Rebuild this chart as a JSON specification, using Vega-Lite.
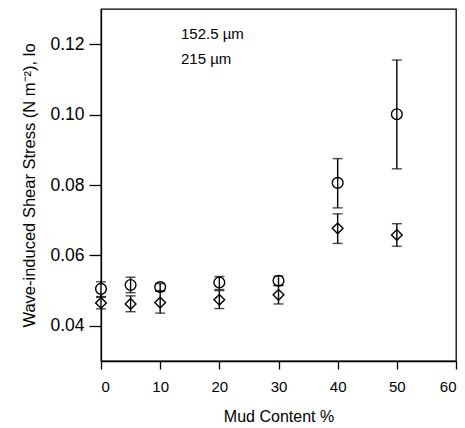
{
  "$schema": "https://vega.github.io/schema/vega-lite/v6.json",
  "width": 355,
  "height": 352,
  "autosize": {"type": "none"},
  "padding": {"left": 101, "top": 9, "right": 9, "bottom": 67},
  "background": "white",
  "config": {
    "view": {"stroke": "black", "strokeWidth": 1.3},
    "font": "Liberation Sans",
    "axis": {
      "grid": false,
      "domainColor": "black",
      "domainWidth": 1.3,
      "tickColor": "black",
      "tickWidth": 1.3,
      "labelColor": "black",
      "titleColor": "black",
      "labelFont": "Liberation Sans",
      "titleFont": "Liberation Sans",
      "titleFontWeight": "normal"
    }
  },
  "data": {
    "values": [
      {"mud": 0, "series": "152.5  µm", "mean": 0.0505, "lo": 0.0483, "hi": 0.0525},
      {"mud": 5, "series": "152.5  µm", "mean": 0.0516, "lo": 0.0494, "hi": 0.0538},
      {"mud": 10, "series": "152.5  µm", "mean": 0.0510, "lo": 0.0498, "hi": 0.0520},
      {"mud": 20, "series": "152.5  µm", "mean": 0.0523, "lo": 0.0503, "hi": 0.0540},
      {"mud": 30, "series": "152.5  µm", "mean": 0.0528, "lo": 0.0515, "hi": 0.0541},
      {"mud": 40, "series": "152.5  µm", "mean": 0.0806, "lo": 0.0735, "hi": 0.0875},
      {"mud": 50, "series": "152.5  µm", "mean": 0.1001, "lo": 0.0846, "hi": 0.1155},
      {"mud": 0, "series": "215 µm", "mean": 0.0465, "lo": 0.0448, "hi": 0.0481},
      {"mud": 5, "series": "215 µm", "mean": 0.0462, "lo": 0.0440, "hi": 0.0485},
      {"mud": 10, "series": "215 µm", "mean": 0.0466, "lo": 0.0436, "hi": 0.0500},
      {"mud": 20, "series": "215 µm", "mean": 0.0474, "lo": 0.0449, "hi": 0.0500},
      {"mud": 30, "series": "215 µm", "mean": 0.0488, "lo": 0.0462, "hi": 0.0514},
      {"mud": 40, "series": "215 µm", "mean": 0.0677, "lo": 0.0634, "hi": 0.0718},
      {"mud": 50, "series": "215 µm", "mean": 0.0658, "lo": 0.0626, "hi": 0.0690}
    ]
  },
  "encoding": {
    "x": {
      "field": "mud", "type": "quantitative",
      "scale": {"domain": [0, 60], "nice": false, "zero": false},
      "axis": {
        "title": "Mud Content %",
        "values": [0, 10, 20, 30, 40, 50, 60],
        "tickSize": 8,
        "labelFontSize": 15,
        "labelPadding": 10,
        "titleFontSize": 16,
        "titlePadding": 14
      }
    }
  },
  "layer": [
    {
      "mark": {"type": "point", "filled": true, "color": "white", "stroke": "black", "strokeWidth": 1.4, "opacity": 1, "size": 115},
      "encoding": {
        "y": {
          "field": "mean", "type": "quantitative",
          "scale": {"domain": [0.03, 0.13], "nice": false, "zero": false},
          "axis": {
            "title": "Wave-induced Shear Stress (N m⁻²)",
            "values": [0.04, 0.06, 0.08, 0.1, 0.12],
            "format": ".2f",
            "tickSize": 12,
            "labelFontSize": 17.5,
            "labelPadding": 5,
            "titleFontSize": 16.5,
            "titlePadding": 12
          }
        },
        "shape": {
          "field": "series", "type": "nominal",
          "scale": {"domain": ["152.5  µm", "215 µm"], "range": ["circle", "diamond"]},
          "legend": {
            "title": null,
            "orient": "none",
            "direction": "vertical",
            "legendX": 36,
            "legendY": 17,
            "labelFontSize": 15,
            "labelColor": "black",
            "labelOffset": 29,
            "rowPadding": 8,
            "symbolSize": 100,
            "symbolFillColor": "white",
            "symbolStrokeColor": "black",
            "symbolStrokeWidth": 1.4,
            "symbolOpacity": 1
          }
        }
      }
    },
    {
      "mark": {
        "type": "errorbar",
        "ticks": {"size": 10, "color": "black", "thickness": 1.4},
        "rule": {"color": "black", "strokeWidth": 1.4}
      },
      "encoding": {
        "y": {"field": "lo", "type": "quantitative"},
        "y2": {"field": "hi"},
        "detail": {"field": "series"}
      }
    }
  ]
}
